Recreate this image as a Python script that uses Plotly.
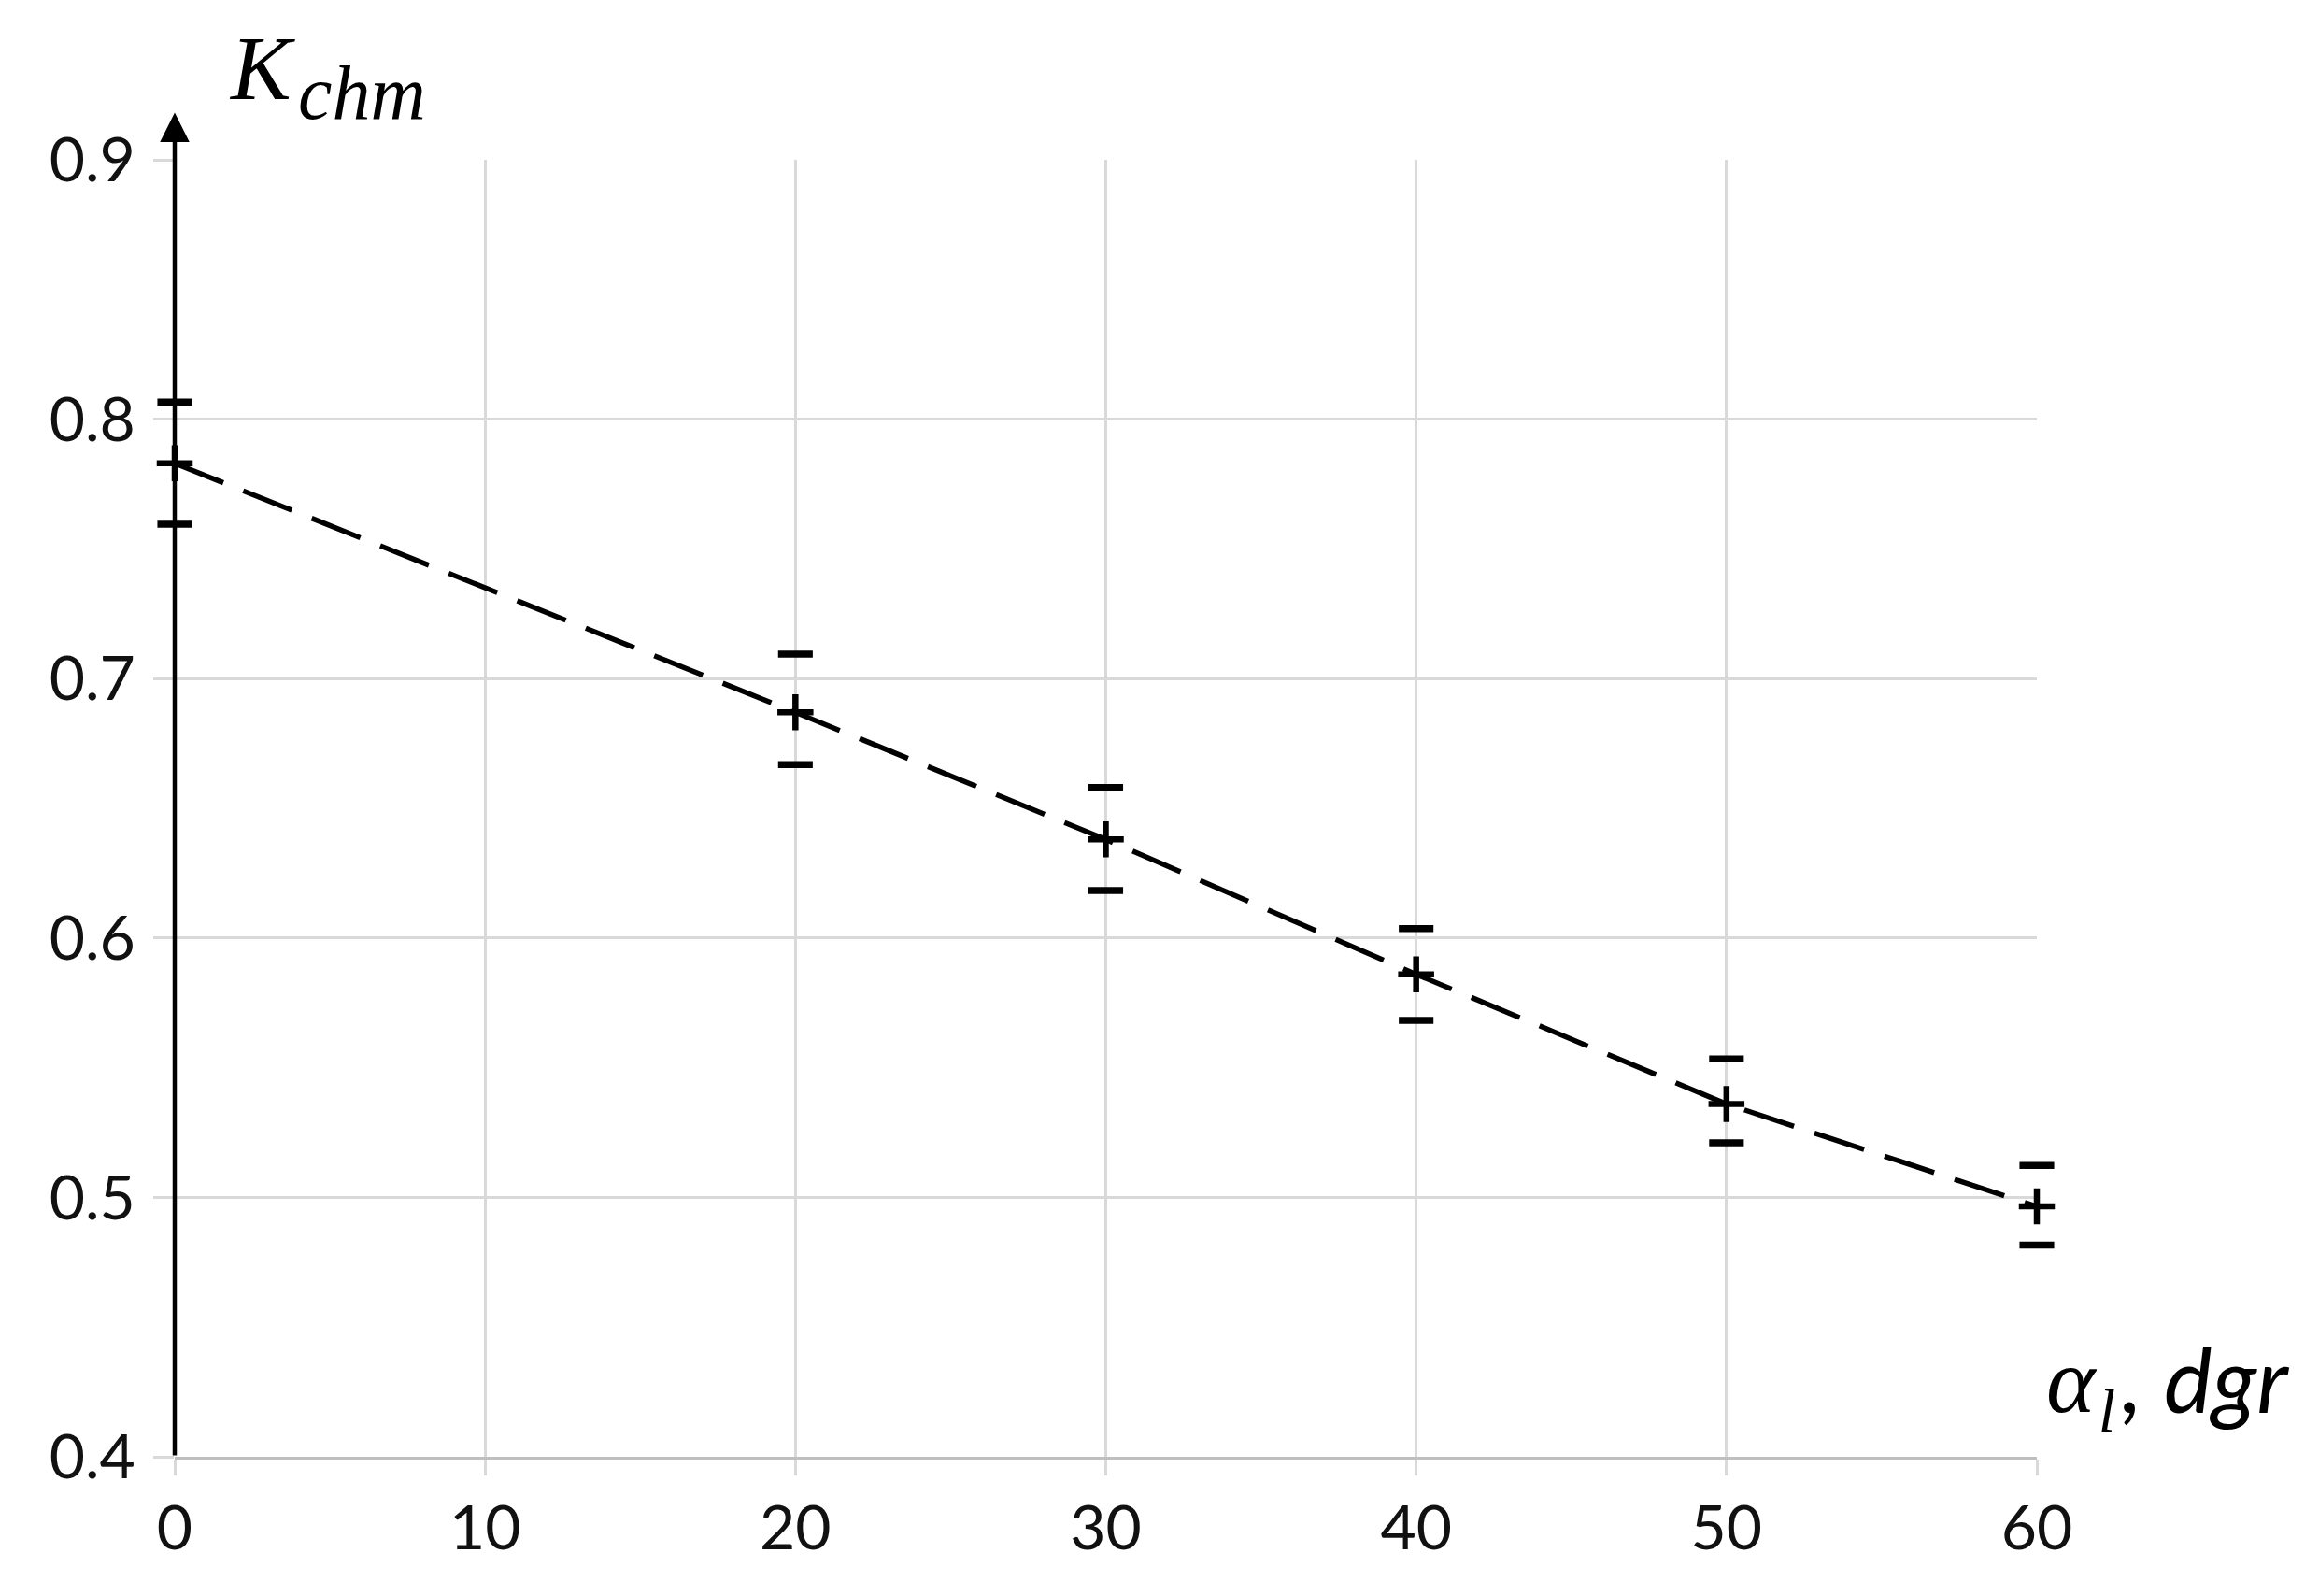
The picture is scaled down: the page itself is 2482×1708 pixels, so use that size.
import plotly.graph_objects as go

# data
angle = [0, 20, 30, 40, 50, 60]
k_chm = [0.783, 0.687, 0.638, 0.586, 0.536, 0.4965]
k_upper = [0.8066, 0.7094, 0.658, 0.6036, 0.5534, 0.5123]
k_lower = [0.7595, 0.6668, 0.6183, 0.5682, 0.521, 0.4816]

x_ticks = [0, 10, 20, 30, 40, 50, 60]
y_ticks = [0.4, 0.5, 0.6, 0.7, 0.8, 0.9]

W, H = 2482, 1708
GRID = "#d9d9d9"

fig = go.Figure()

# dashed connecting line
fig.add_trace(go.Scatter(
    x=angle, y=k_chm, mode="lines",
    line=dict(color="black", width=5.5, dash="56px,23px"),
    cliponaxis=False, showlegend=False, hoverinfo="skip"))

# error caps (upper and lower)
for vals in (k_upper, k_lower):
    fig.add_trace(go.Scatter(
        x=angle, y=vals, mode="markers",
        marker=dict(symbol="line-ew", size=26.5, color="black",
                    line=dict(color="black", width=7.5)),
        cliponaxis=False, showlegend=False, hoverinfo="skip"))

# centre crosses
fig.add_trace(go.Scatter(
    x=angle, y=k_chm, mode="markers",
    marker=dict(symbol="cross-thin", size=27.5, color="black",
                line=dict(color="black", width=6.5)),
    cliponaxis=False, showlegend=False, hoverinfo="skip"))

# black y axis with arrow head
fig.add_annotation(x=0, y=0.9182, xref="x", yref="y", ax=0, ay=0.4,
                   axref="x", ayref="y", text="", showarrow=True,
                   arrowhead=2, arrowsize=1.4, arrowwidth=4.5,
                   arrowcolor="black", standoff=0, startstandoff=0)

SERIF = "Liberation Serif"

# y axis title: K with subscript chm
fig.add_annotation(x=0.028, xref="paper", y=1.0699, yref="paper",
                   xanchor="left", yanchor="middle", showarrow=False,
                   text="<i>K</i>",
                   font=dict(family=SERIF, size=97, color="black"))
fig.add_annotation(x=0.0652, xref="paper", y=1.0512, yref="paper",
                   xanchor="left", yanchor="middle", showarrow=False,
                   text="<i>chm</i>",
                   font=dict(family=SERIF, size=82, color="black"))

# x axis title: alpha with subscript l, then ", dgr"
fig.add_annotation(x=1.004, xref="paper", y=0.0584, yref="paper",
                   xanchor="left", yanchor="middle", showarrow=False,
                   text="<i>α</i>",
                   font=dict(family=SERIF, size=100, color="black"))
fig.add_annotation(x=1.0321, xref="paper", y=0.0353, yref="paper",
                   xanchor="left", yanchor="middle", showarrow=False,
                   text="<i>l</i>",
                   font=dict(family=SERIF, size=65, color="black"))
fig.add_annotation(x=1.0447, xref="paper", y=0.0612, yref="paper",
                   xanchor="left", yanchor="middle", showarrow=False,
                   text="<i>, dgr</i>",
                   font=dict(family="Lato", size=98, color="black"))

fig.update_layout(
    width=W, height=H,
    margin=dict(l=179, r=310, t=163, b=157, pad=0),
    paper_bgcolor="white", plot_bgcolor="white",
    font=dict(family="Lato", color="#111111"),
    xaxis=dict(range=[0, 60], tickvals=x_ticks, ticktext=[str(v) for v in x_ticks],
               showgrid=True, gridcolor=GRID, gridwidth=3,
               showline=True, linecolor="#bfbfbf", linewidth=3,
               ticks="outside", ticklen=17, tickwidth=3, tickcolor=GRID,
               zeroline=False, tickfont=dict(size=66, family="Lato", color="#111111")),
    yaxis=dict(range=[0.4, 0.9], tickvals=y_ticks, ticktext=[f"{v:.1f}" for v in y_ticks],
               showgrid=True, gridcolor=GRID, gridwidth=3,
               showline=False, zeroline=False,
               ticks="outside", ticklen=22, tickwidth=3, tickcolor=GRID,
               ticklabelstandoff=6,
               tickfont=dict(size=66, family="Lato", color="#111111")),
)

fig.write_html("out.html")
